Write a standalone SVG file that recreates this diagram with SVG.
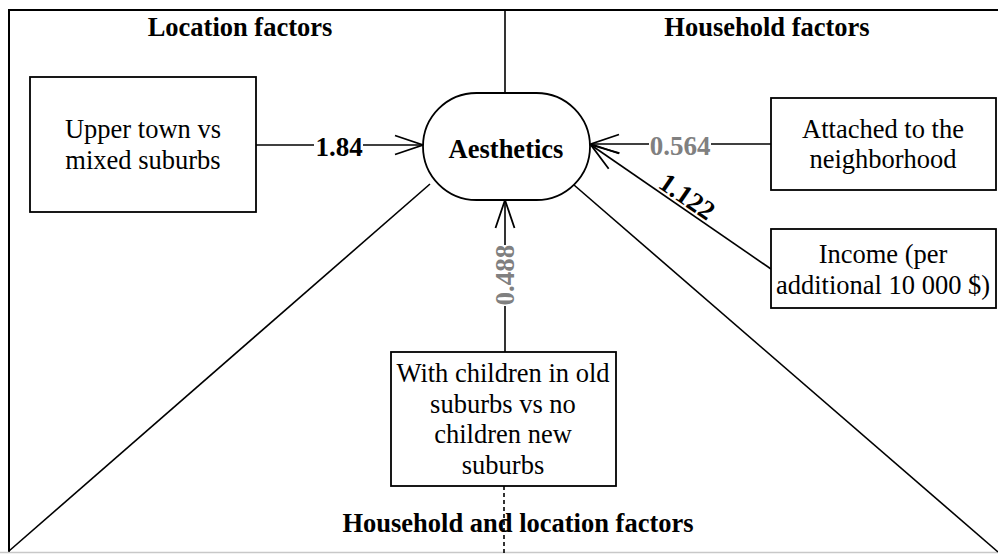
<svg xmlns="http://www.w3.org/2000/svg" width="998" height="554" viewBox="0 0 998 554">
<style>
.box{fill:#fff;stroke:#000;stroke-width:1.8}
.t{font-family:"Liberation Serif","Times New Roman",serif;font-size:26.5px;fill:#000;text-anchor:middle}
.h{font-family:"Liberation Serif","Times New Roman",serif;font-size:26.5px;font-weight:bold;fill:#000;text-anchor:middle}
.lbl{font-family:"Liberation Serif","Times New Roman",serif;font-size:27px;font-weight:bold;text-anchor:middle}
.ln{fill:none;stroke:#000;stroke-width:1.6}
</style>
<defs>
<marker id="arr" markerUnits="userSpaceOnUse" viewBox="-30 -12 32 24" refX="0" refY="0" markerWidth="32" markerHeight="24" orient="auto" overflow="visible">
<path d="M-28,-9.5 L0,0 L-28,9.5" fill="none" stroke="#000" stroke-width="1.8"/>
</marker>
</defs>
<rect x="0" y="0" width="998" height="554" fill="#fff"/>
<g id="frame">
<line x1="8" y1="10" x2="998" y2="10" stroke="#000" stroke-width="2"/>
<line x1="9" y1="10" x2="9" y2="552" stroke="#000" stroke-width="2"/>
<line x1="0" y1="552.5" x2="998" y2="552.5" stroke="#c8c8c8" stroke-width="1.5"/>
<line x1="505" y1="10" x2="505" y2="93" stroke="#000" stroke-width="1.6"/>
<line x1="430" y1="184" x2="9" y2="551" stroke="#000" stroke-width="1.6"/>
<line x1="574" y1="185" x2="998" y2="552" stroke="#000" stroke-width="1.6"/>
<line x1="504" y1="486" x2="504" y2="554" stroke="#000" stroke-width="1.6" stroke-dasharray="4,3"/>
<text class="h" x="240" y="36">Location factors</text>
<text class="h" x="767" y="36">Household factors</text>
<text class="h" x="518" y="532">Household and location factors</text>
</g>
<g id="connectors">
<line class="ln" x1="256" y1="145" x2="314" y2="145"/>
<line class="ln" x1="363" y1="145" x2="423" y2="145" marker-end="url(#arr)"/>
<text class="lbl" x="339" y="156" fill="#000">1.84</text>
<line class="ln" x1="771" y1="144" x2="711" y2="144"/>
<line class="ln" x1="649" y1="144" x2="591" y2="144" marker-end="url(#arr)"/>
<text class="lbl" x="680" y="155" fill="#808080">0.564</text>
<line class="ln" x1="771" y1="269" x2="591" y2="145" marker-end="url(#arr)"/>
<text class="lbl" transform="translate(682,204) rotate(34.5)" x="0" y="0" fill="#000">1.122</text>
<line class="ln" x1="505" y1="352" x2="505" y2="306"/>
<line class="ln" x1="505" y1="245" x2="505" y2="200" marker-end="url(#arr)"/>
<text class="lbl" transform="translate(514,275) rotate(-90)" x="0" y="0" fill="#808080">0.488</text>
</g>
<g id="aesthetics">
<rect class="box" x="423" y="93" width="167" height="107" rx="53.5" ry="53.5"/>
<text class="h" x="506" y="158">Aesthetics</text>
</g>
<g id="upper-town">
<rect class="box" x="30" y="77" width="226" height="135"/>
<text class="t" x="143" y="138">Upper town vs</text>
<text class="t" x="143" y="169">mixed suburbs</text>
</g>
<g id="attached">
<rect class="box" x="771" y="98" width="225" height="92"/>
<text class="t" x="883" y="138">Attached to the</text>
<text class="t" x="883" y="168">neighborhood</text>
</g>
<g id="income">
<rect class="box" x="771" y="229" width="225" height="79"/>
<text class="t" x="883" y="263">Income (per</text>
<text class="t" x="883" y="294">additional 10 000 $)</text>
</g>
<g id="children">
<rect class="box" x="391" y="352" width="225" height="134"/>
<text class="t" x="503" y="382">With children in old</text>
<text class="t" x="503" y="413">suburbs vs no</text>
<text class="t" x="503" y="443">children new</text>
<text class="t" x="503" y="474">suburbs</text>
</g>
</svg>
